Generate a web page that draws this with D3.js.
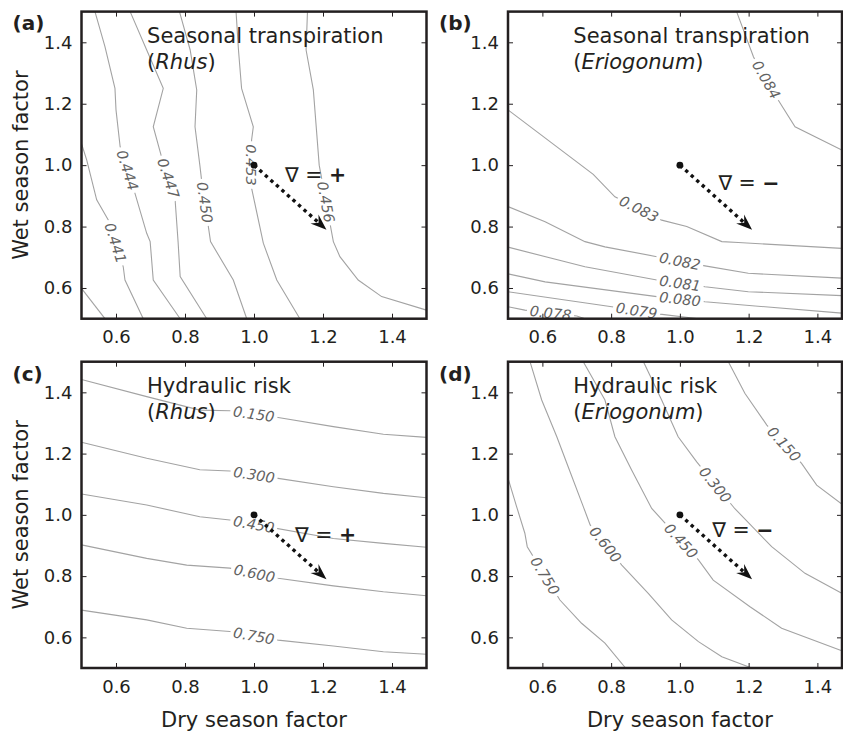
<!DOCTYPE html>
<html>
<head>
<meta charset="utf-8">
<title>contour panels</title>
<script src="https://d3js.org/d3.v7.min.js"></script>
<style>
  body { margin: 0; background: #fff; }
  svg text { font-family: "DejaVu Sans", sans-serif; }
</style>
</head>
<body>
<svg width="843" height="733"></svg>
<script>
var xTicks = [0.6, 0.8, 1.0, 1.2, 1.4];
var yTicks = [0.6, 0.8, 1.0, 1.2, 1.4];

// (a) seasonal transpiration, Rhus
var rhusTransLevels = ["0.438", "0.441", "0.444", "0.447", "0.450", "0.453", "0.456"];
var rhusTransLines = [
  [[0.5,0.599],[0.568,0.5]],
  [[0.5,1.07],[0.515,1.017],[0.544,0.887],[0.578,0.821],[0.621,0.669],[0.626,0.626],[0.679,0.5]],
  [[0.539,1.5],[0.568,1.386],[0.597,1.25],[0.6,1.18],[0.612,1.06],[0.655,0.908],[0.689,0.778],[0.699,0.751],[0.708,0.626],[0.786,0.5]],
  [[0.641,1.5],[0.689,1.375],[0.737,1.25],[0.708,1.125],[0.732,1.027],[0.771,0.892],[0.78,0.75],[0.786,0.637],[0.863,0.5]],
  [[0.784,1.5],[0.815,1.375],[0.834,1.245],[0.829,1.125],[0.843,1.0],[0.848,0.952],[0.874,0.751],[0.94,0.626],[0.979,0.5]],
  [[0.948,1.5],[0.955,1.375],[0.964,1.25],[0.998,1.125],[0.993,1.082],[0.993,0.925],[1.027,0.746],[1.066,0.626],[1.133,0.5]],
  [[1.155,1.5],[1.151,1.375],[1.172,1.245],[1.189,1.0],[1.23,0.751],[1.249,0.702],[1.302,0.626],[1.37,0.572],[1.5,0.528]]
];
var rhusTransLabelAt = [null, [0.609,0.751], [0.624,0.98], [0.749,0.957], [0.864,0.879], [0.99,1.0], [1.211,0.881]];

// (b) seasonal transpiration, Eriogonum
var erioTransLevels = ["0.084", "0.083", "0.082", "0.081", "0.080", "0.079", "0.078"];
var erioTransLines = [
  [[1.165,1.5],[1.214,1.353],[1.248,1.277],[1.286,1.212],[1.335,1.125],[1.471,1.049]],
  [[0.5,1.18],[0.748,0.97],[0.811,0.897],[0.947,0.821],[1.02,0.8],[1.122,0.751],[1.17,0.748],[1.471,0.729]],
  [[0.5,0.865],[0.608,0.816],[0.724,0.751],[0.782,0.734],[0.933,0.702],[1.073,0.672],[1.199,0.648],[1.471,0.632]],
  [[0.5,0.733],[0.724,0.669],[0.933,0.626],[1.073,0.604],[1.199,0.588],[1.471,0.575]],
  [[0.5,0.646],[0.608,0.62],[0.933,0.572],[1.073,0.555],[1.471,0.518]],
  [[0.5,0.588],[0.802,0.539],[0.942,0.515],[1.054,0.5]],
  [[0.5,0.539],[0.549,0.528],[0.7,0.509],[0.724,0.5]]
];
var erioTransLabelAt = [[1.248,1.277], [0.876,0.846], [1.0,0.686], [1.0,0.613], [1.0,0.564], [0.874,0.526], [0.624,0.52]];

// (c) hydraulic risk, Rhus
var rhusRiskLevels = ["0.150", "0.300", "0.450", "0.600", "0.750"];
var rhusRiskLines = [
  [[0.5,1.442],[0.689,1.386],[0.843,1.342],[0.93,1.34],[1.07,1.318],[1.23,1.288],[1.375,1.263],[1.5,1.253]],
  [[0.5,1.237],[0.689,1.185],[0.843,1.147],[0.93,1.143],[1.07,1.119],[1.23,1.092],[1.375,1.07],[1.5,1.056]],
  [[0.5,1.068],[0.689,1.032],[0.843,0.994],[0.93,0.983],[1.23,0.923],[1.375,0.907],[1.5,0.894]],
  [[0.5,0.902],[0.689,0.858],[0.805,0.836],[0.93,0.826],[1.07,0.793],[1.23,0.768],[1.375,0.749],[1.5,0.736]],
  [[0.5,0.689],[0.689,0.657],[0.805,0.63],[0.93,0.619],[1.07,0.591],[1.23,0.572],[1.375,0.553],[1.5,0.545]]
];
var rhusRiskLabelAt = [[1.0,1.334], [1.0,1.133], [1.0,0.972], [1.0,0.801], [1.0,0.604]];

// (d) hydraulic risk, Eriogonum
var erioRiskLevels = ["0.150", "0.300", "0.450", "0.600", "0.750"];
var erioRiskLines = [
  [[1.141,1.5],[1.189,1.397],[1.253,1.293],[1.354,1.168],[1.398,1.097],[1.471,1.035]],
  [[0.894,1.5],[0.947,1.375],[0.995,1.255],[1.049,1.173],[1.16,1.02],[1.267,0.896],[1.364,0.809],[1.471,0.744]],
  [[0.719,1.5],[0.782,1.375],[0.811,1.255],[0.86,1.146],[0.918,1.021],[1.054,0.853],[1.097,0.787],[1.204,0.7],[1.296,0.63],[1.471,0.556]],
  [[0.564,1.5],[0.598,1.375],[0.642,1.255],[0.675,1.157],[0.719,1.027],[0.739,0.967],[0.831,0.836],[0.908,0.744],[0.976,0.657],[1.054,0.586],[1.122,0.537],[1.209,0.5]],
  [[0.5,1.12],[0.525,1.027],[0.549,0.94],[0.556,0.896],[0.651,0.722],[0.714,0.646],[0.782,0.581],[0.842,0.5]]
];
var erioRiskLabelAt = [[1.301,1.228], [1.102,1.097], [1.0,0.912], [0.782,0.902], [0.603,0.798]];

// gradient arrow: from the baseline point (1,1) towards drier/wetter
var arrowFrom = [1.0, 1.0];
var arrowTo = [1.21, 0.79];

var panels = [
  {tag:"(a)", col:0, row:0, title:"Seasonal transpiration", species:"Rhus", sign:"+", signAt:[1.09,0.945],
   levels:rhusTransLevels, lines:rhusTransLines, labelAt:rhusTransLabelAt},
  {tag:"(b)", col:1, row:0, title:"Seasonal transpiration", species:"Eriogonum", sign:"\u2212", signAt:[1.112,0.92],
   levels:erioTransLevels, lines:erioTransLines, labelAt:erioTransLabelAt},
  {tag:"(c)", col:0, row:1, title:"Hydraulic risk", species:"Rhus", sign:"+", signAt:[1.119,0.912],
   levels:rhusRiskLevels, lines:rhusRiskLines, labelAt:rhusRiskLabelAt},
  {tag:"(d)", col:1, row:1, title:"Hydraulic risk", species:"Eriogonum", sign:"\u2212", signAt:[1.094,0.929],
   levels:erioRiskLevels, lines:erioRiskLines, labelAt:erioRiskLabelAt}
];

// layout (right column is cut by the page edge, its frame sits at 842)
var cols = [{left:81.5, end:426.5, right:426.5}, {left:508, end:851.75, right:842}];
var rows = [{top:11.6, bottom:318.7}, {top:361.7, bottom:668}];

var ink = "#231f20";
var svg = d3.select("svg");

var defs = svg.append("defs");

panels.forEach(function(p, pi) {
  var col = cols[p.col], row = rows[p.row];
  var x = d3.scaleLinear().domain([0.5, 1.5]).range([col.left, col.end]);
  var y = d3.scaleLinear().domain([0.5, 1.5]).range([row.bottom, row.top]);
  var g = svg.append("g");

  defs.append("clipPath").attr("id", "clip" + pi)
    .append("rect")
    .attr("x", col.left).attr("y", row.top)
    .attr("width", col.right - col.left).attr("height", row.bottom - row.top);

  var cg = g.append("g").attr("clip-path", "url(#clip" + pi + ")");
  var line = d3.line().x(function(d){ return x(d[0]); }).y(function(d){ return y(d[1]); });

  // contour lines + inline labels
  p.lines.forEach(function(pts, i) {
    var path = cg.append("path")
      .attr("d", line(pts))
      .attr("fill", "none")
      .attr("stroke", "#a3a3a3")
      .attr("stroke-width", 1.1);
    var lab = p.labelAt[i];
    if (!lab) return;
    var node = path.node(), L = node.getTotalLength();
    var tx = x(lab[0]), ty = y(lab[1]);
    var best = 0, bd = 1e9;
    for (var s = 0; s <= L; s += 0.5) {
      var q = node.getPointAtLength(s);
      var dd = (q.x - tx) * (q.x - tx) + (q.y - ty) * (q.y - ty);
      if (dd < bd) { bd = dd; best = s; }
    }
    var t = cg.append("text")
      .text(p.levels[i])
      .attr("font-size", 14.5)
      .attr("font-style", "italic")
      .attr("fill", "#626262")
      .attr("text-anchor", "middle")
      .attr("dy", "0.36em");
    var w = t.node().getComputedTextLength();
    var a = node.getPointAtLength(Math.max(0, best - w / 2));
    var b = node.getPointAtLength(Math.min(L, best + w / 2));
    var ang = Math.atan2(b.y - a.y, b.x - a.x) * 180 / Math.PI;
    if (ang > 90) ang -= 180;
    if (ang < -90) ang += 180;
    var tr = "translate(" + ((a.x + b.x) / 2) + "," + ((a.y + b.y) / 2) + ") rotate(" + ang + ")";
    cg.insert("rect", function(){ return t.node(); })
      .attr("x", -w / 2 - 3).attr("y", -4.5)
      .attr("width", w + 6).attr("height", 9)
      .attr("fill", "#fff")
      .attr("transform", tr);
    t.attr("transform", tr);
  });

  // axes with inward ticks on all four sides
  var ax = g.append("g").attr("transform", "translate(0," + row.bottom + ")")
    .call(d3.axisBottom(x).tickValues(xTicks).tickFormat(d3.format(".1f")).tickSizeInner(-5).tickSizeOuter(0).tickPadding(12));
  var ay = g.append("g").attr("transform", "translate(" + col.left + ",0)")
    .call(d3.axisLeft(y).tickValues(yTicks).tickFormat(d3.format(".1f")).tickSizeInner(-5).tickSizeOuter(0).tickPadding(9));
  var at = g.append("g").attr("transform", "translate(0," + row.top + ")")
    .call(d3.axisTop(x).tickValues(xTicks).tickFormat("").tickSizeInner(-5).tickSizeOuter(0));
  var ar = g.append("g").attr("transform", "translate(" + col.right + ",0)")
    .call(d3.axisRight(y).tickValues(yTicks).tickFormat("").tickSizeInner(-5).tickSizeOuter(0));
  [ax, ay, at, ar].forEach(function(s) {
    s.select(".domain").remove();
    s.attr("font-family", null).attr("font-size", 18);
    s.selectAll("line").attr("stroke", ink).attr("stroke-width", 1);
    s.selectAll("text").attr("fill", ink);
  });

  g.append("rect")
    .attr("x", col.left).attr("y", row.top)
    .attr("width", col.right - col.left).attr("height", row.bottom - row.top)
    .attr("fill", "none")
    .attr("stroke", ink)
    .attr("stroke-width", 2.5);

  // panel tag
  g.append("text")
    .attr("x", col.left - 69).attr("y", row.top + 18.8)
    .attr("font-size", 20).attr("font-weight", "bold")
    .attr("fill", ink)
    .text(p.tag);

  // title
  var tt = g.append("text")
    .attr("x", x(0.69)).attr("y", row.top + 31)
    .attr("font-size", 21).attr("fill", ink);
  tt.append("tspan").text(p.title);
  var t2 = g.append("text")
    .attr("x", x(0.69)).attr("y", row.top + 57)
    .attr("font-size", 21).attr("fill", ink);
  t2.append("tspan").text("(");
  t2.append("tspan").attr("font-style", "italic").text(p.species);
  t2.append("tspan").text(")");

  // gradient arrow
  var x0 = x(arrowFrom[0]), y0 = y(arrowFrom[1]);
  var x1 = x(arrowTo[0]), y1 = y(arrowTo[1]);
  var dir = Math.atan2(y1 - y0, x1 - x0);
  var headLen = 16;
  g.append("line")
    .attr("x1", x0).attr("y1", y0)
    .attr("x2", x1 - Math.cos(dir) * (headLen - 4)).attr("y2", y1 - Math.sin(dir) * (headLen - 4))
    .attr("stroke", "#111")
    .attr("stroke-width", 3.4)
    .attr("stroke-dasharray", "3.4,4");
  g.append("path")
    .attr("d", "M0,0 L" + (-headLen) + "," + (-6) + " L" + (-headLen + 5.5) + ",0 L" + (-headLen) + ",6 Z")
    .attr("fill", "#111")
    .attr("transform", "translate(" + x1 + "," + y1 + ") rotate(" + (dir * 180 / Math.PI) + ")");
  g.append("circle")
    .attr("cx", x0).attr("cy", y0).attr("r", 3.4)
    .attr("fill", "#111");

  var gt = g.append("text")
    .attr("x", x(p.signAt[0])).attr("y", y(p.signAt[1]))
    .attr("font-size", 20.5).attr("fill", ink);
  gt.append("tspan").text("\u2207 = ");
  gt.append("tspan").attr("font-weight", "bold").text(p.sign);

  // axis titles
  if (p.col === 0) {
    g.append("text")
      .attr("transform", "translate(28," + ((row.top + row.bottom) / 2) + ") rotate(-90)")
      .attr("text-anchor", "middle")
      .attr("font-size", 21).attr("fill", ink)
      .text("Wet season factor");
  }
  if (p.row === 1) {
    g.append("text")
      .attr("x", x(1.0)).attr("y", 727)
      .attr("text-anchor", "middle")
      .attr("font-size", 21).attr("fill", ink)
      .text("Dry season factor");
  }
});
</script>
</body>
</html>
